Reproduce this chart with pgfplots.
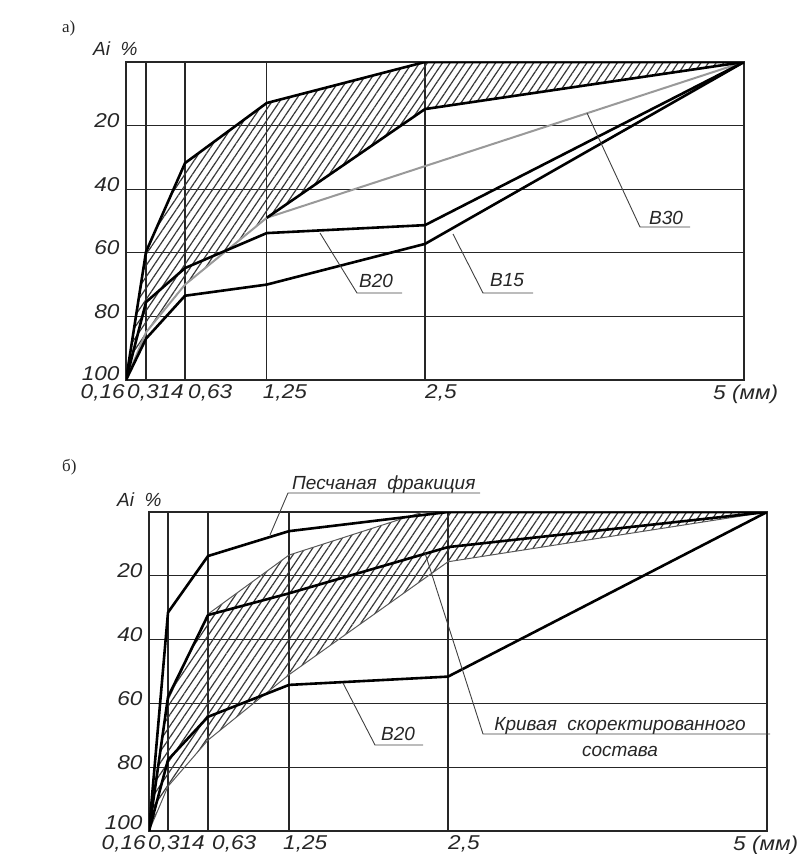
\documentclass[border=0pt]{standalone}
\usepackage{fontspec}
\setmainfont{Liberation Serif}
\newfontfamily\dfont{Liberation Sans Italic}
\newfontfamily\dfontw[FakeStretch=1.13]{Liberation Sans Italic}
\usepackage{pgfplots}
\pgfplotsset{compat=1.18}
\usepgfplotslibrary{fillbetween}
\usetikzlibrary{patterns.meta}
\newcommand\lbl{\dfont\fontsize{19bp}{22bp}\selectfont}
\newcommand\tlbl{\dfontw\fontsize{20bp}{23bp}\selectfont}
\pgfplotsset{
  panel/.style={
    scale only axis, width=618bp, anchor=south west,
    xmin=0, xmax=618, ymin=0, ymax=100, y dir=reverse,
    ytick={20,40,60,80,100}, yticklabels={20,40,60,80,{\raisebox{3bp}{100}}},
    xmajorgrids, ymajorgrids,
    grid style={line width=1.3bp, black!85},
    axis line style={line width=1.3bp, black!85},
    major tick length=0pt, no markers,
    tick label style={font=\tlbl, text=black!85},
    yticklabel style={anchor=east, xshift=-3bp, yshift=5bp},
    xticklabel style={anchor=north west, inner xsep=0pt, yshift=-1bp},
  },
  thickline/.style={black, line width=2.6bp, line join=round},
  thinzone/.style={black!65, line width=1bp, line join=round},
  grayline/.style={black!40, line width=2bp, line join=round},
  hatch/.style={draw=none, pattern={Lines[angle=56,distance=6.3bp,line width=1.2bp]}, pattern color=black!78},
}
\begin{document}
\begin{tikzpicture}
% ---------- panel a ----------
\begin{axis}[panel, at={(126bp,-380bp)}, height=318bp,
  xtick={0,20,59,140.7,299,618},
  xticklabels={{\llap{0,16\hspace{2bp}}},{\hspace*{-19bp}0,314},{\hspace*{3bp}0,63},{\hspace*{-4bp}1,25},{2,5},{\hspace*{-31bp}5\ (мм)}}]
\addplot[name path=upA, thickline] coordinates {(0,100)(20,59.7)(59,31.8)(140.7,12.9)(299,0)(618,0)};
\addplot[name path=loA, draw=none] coordinates {(0,100)(20,85)(59,70)(140.7,49)(299,14.8)(618,0)};
\addplot[hatch] fill between[of=upA and loA];
\addplot[grayline] coordinates {(0,100)(20,85)(59,70)(140.7,49)(618,0)};
\addplot[thickline] coordinates {(140.7,49)(299,14.8)(618,0)};
\addplot[thickline] coordinates {(0,100)(20,75.5)(59,64.8)(140.7,53.8)(299,51.3)(618,0)};
\addplot[thickline] coordinates {(0,100)(20,87)(59,73.5)(140.7,70)(299,57.2)(618,0)};
\end{axis}
% ---------- panel b ----------
\begin{axis}[panel, at={(149bp,-831bp)}, height=319bp,
  yticklabels={20,40,60,80,{\raisebox{6bp}{100}}},
  xtick={0,19,59,140,299,618},
  xticklabels={{\llap{0,16\hspace{4bp}}},{\hspace*{-20bp}0,314},{\hspace*{4bp}0,63},{\hspace*{-6bp}1,25},{2,5},{\hspace*{-34bp}5\ (мм)}}]
\addplot[name path=upB, thinzone] coordinates {(0,100)(19,59)(59,32)(140,13.5)(274,0)(618,0)};
\addplot[name path=loB, thinzone] coordinates {(0,100)(19,86)(59,71.5)(140,51)(299,15.6)(618,0)};
\addplot[hatch] fill between[of=upB and loB];
\addplot[thickline] coordinates {(0,100)(19,31.5)(59,13.8)(140,6)(299,0)(618,0)};
\addplot[thickline] coordinates {(0,100)(19,58)(59,32.3)(140,25.5)(299,11)(618,0)};
\addplot[thickline] coordinates {(0,100)(19,77.7)(59,64.2)(140,54.2)(299,51.6)(618,0)};
\end{axis}
% ---------- annotations ----------
\begin{scope}[x=1bp,y=-1bp, every node/.style={font=\lbl, text=black!85, inner sep=0pt}]
\node[anchor=west] at (62,28) {\rmfamily\fontsize{17bp}{20bp}\selectfont а)};
\node[anchor=west] at (62,467) {\rmfamily\fontsize{17bp}{20bp}\selectfont б)};
\node[anchor=west] at (93,49) {Ai\ \ \%};
\node[anchor=west] at (117,500) {Ai\ \ \%};
\draw[line width=0.9bp, black!75] (320,233) -- (357,293) -- (402,293);
\node[anchor=base] at (376,287) {В20};
\draw[line width=0.9bp, black!75] (453,234) -- (483,293) -- (533,293);
\node[anchor=base] at (507,286) {В15};
\draw[line width=0.9bp, black!75] (587,113) -- (640,227) -- (690,227);
\node[anchor=base] at (666,224) {В30};
\draw[line width=0.9bp, black!75] (270,535) -- (288,493) -- (480,493);
\node[anchor=base west] at (292,489) {Песчаная\ \ фракиция};
\draw[line width=0.9bp, black!75] (343,683) -- (375,745) -- (423,745);
\node[anchor=base] at (398,740) {В20};
\draw[line width=0.9bp, black!75] (425,553) -- (483,734) -- (770,734);
\node[anchor=base] at (620,730) {Кривая\ \ скоректированного};
\node[anchor=base] at (620,756) {состава};
\end{scope}
\pgfresetboundingbox
\useasboundingbox (0,0) rectangle (801bp,-854bp);
\end{tikzpicture}
\end{document}
